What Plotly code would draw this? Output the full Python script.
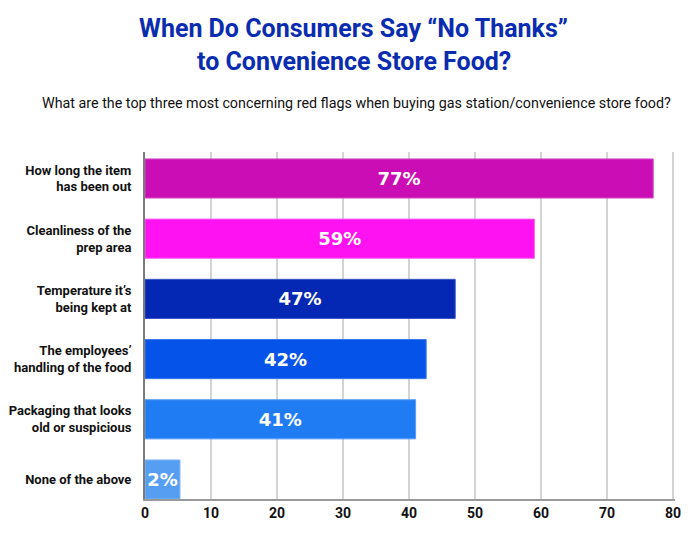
import plotly.graph_objects as go

# categories top to bottom, labels as printed, bar lengths as drawn
categories = [
    "How long the item<br>has been out",
    "Cleanliness of the<br>prep area",
    "Temperature it\u2019s<br>being kept at",
    "The employees\u2019<br>handling of the food",
    "Packaging that looks<br>old or suspicious",
    "None of the above",
]
bar_values = [77, 59, 47, 42.6, 41, 5.3]
bar_labels = ["77%", "59%", "47%", "42%", "41%", "2%"]
bar_colors = ["#CB0DB5", "#FF12F2", "#0428B4", "#0553E8", "#1F7CF2", "#569EF2"]
edge_colors = ["#D650C6", "#FF5CF6", "#3A55C4", "#3C78EC", "#5A9CF4", "#7FB6F5"]
x_ticks = [0, 10, 20, 30, 40, 50, 60, 70, 80]

title_lines = ["When Do Consumers Say \u201cNo Thanks\u201d", "to Convenience Store Food?"]
subtitle_txt = ("What are the top three most concerning red flags when buying "
                "gas station/convenience store food?")

# the page body adds an 8px offset, so the figure is drawn 8px smaller
# and every pixel position below is taken 8px up/left of the reference
OFF = 8
W, H = 699 - OFF, 533 - OFF
plot_left, plot_w = 145 - OFF, 530
plot_top, plot_bottom = 152.3 - OFF, 499.3 - OFF
plot_h = plot_bottom - plot_top

fig = go.Figure()
fig.add_trace(go.Bar(
    x=bar_values,
    y=list(range(len(categories))),
    orientation="h",
    marker=dict(color=bar_colors, line=dict(color=edge_colors, width=1)),
    text=bar_labels,
    textposition="inside",
    insidetextanchor="middle",
    textangle=0,
    constraintext="none",
    textfont=dict(family="DejaVu Sans", size=18, color="white", weight="bold"),
    width=0.65,
    hoverinfo="skip",
))

title_font = dict(family="Roboto", size=25, color="#0A2CB0", weight="bold")
annos = []
for txt, ypix in zip(title_lines, [29, 62]):
    annos.append(dict(
        text=txt, xref="paper", yref="paper",
        x=(353.5 - OFF - plot_left) / plot_w, y=(plot_bottom - (ypix - OFF)) / plot_h,
        xanchor="center", yanchor="middle", showarrow=False, font=title_font,
    ))
annos.append(dict(
    text=subtitle_txt,
    xref="paper", yref="paper",
    x=(40 - OFF - plot_left) / plot_w, y=(plot_bottom - (103 - OFF)) / plot_h,
    xanchor="left", yanchor="middle",
    showarrow=False,
    font=dict(family="Roboto", size=14.3, color="#111111"),
))

fig.update_layout(
    width=W,
    height=H,
    margin=dict(l=plot_left, r=W - plot_left - plot_w, t=plot_top, b=H - plot_bottom),
    paper_bgcolor="white",
    plot_bgcolor="white",
    showlegend=False,
    xaxis=dict(
        range=[0, 80.3],
        tickvals=x_ticks,
        automargin=False,
        showgrid=True,
        gridcolor="#D4D4D4",
        gridwidth=1.5,
        zeroline=False,
        showline=True,
        linecolor="#9A9A9A",
        linewidth=1.5,
        tickfont=dict(family="Roboto", size=14, color="#111111", weight="bold"),
        ticks="",
    ),
    yaxis=dict(
        tickvals=list(range(len(categories))),
        ticktext=categories,
        range=[5.324, -0.44],
        automargin=False,
        showgrid=False,
        zeroline=False,
        showline=True,
        linecolor="#7A7A7A",
        linewidth=2,
        ticks="outside",
        ticklen=9,
        tickcolor="white",
        tickfont=dict(family="Roboto", size=13, color="#111111", weight="bold"),
    ),
    annotations=annos,
)

fig.write_html("out.html")
